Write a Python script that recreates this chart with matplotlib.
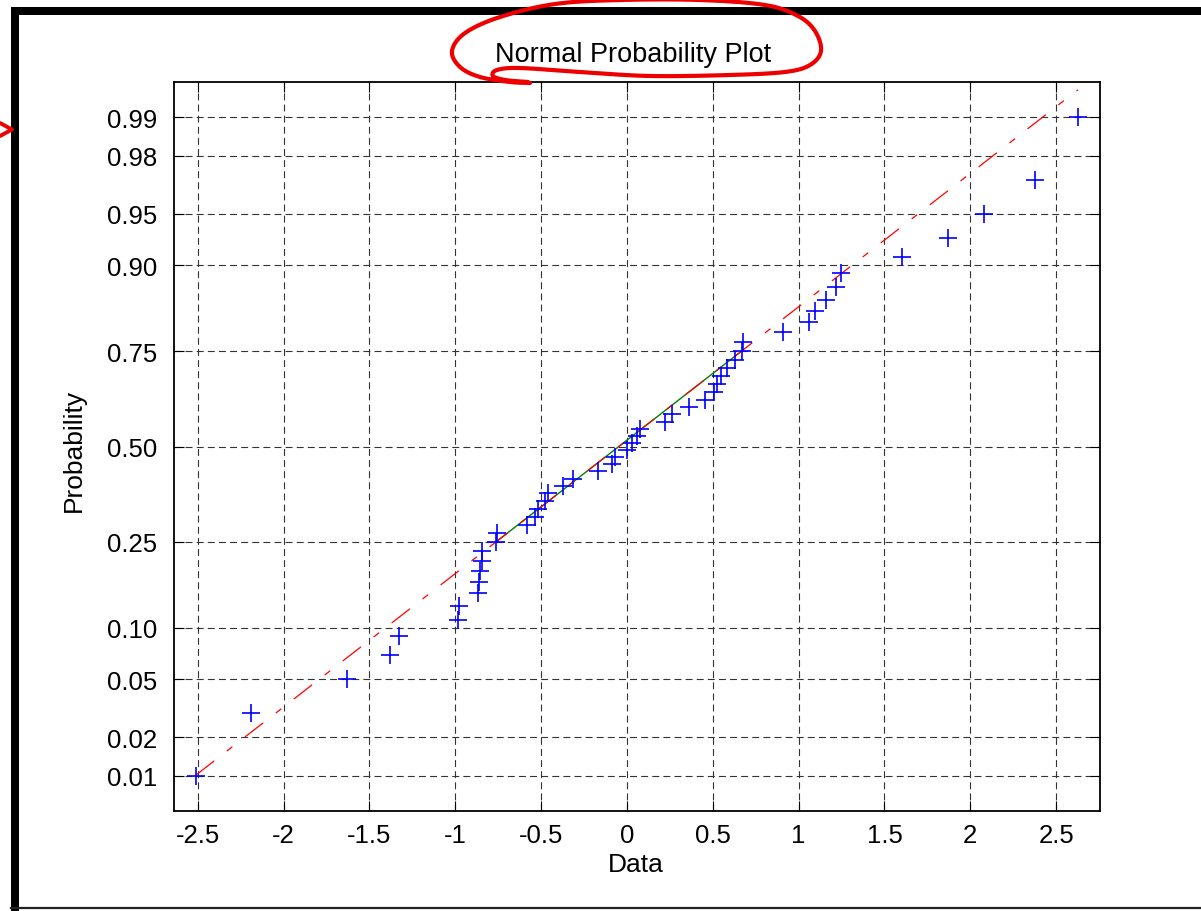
import numpy as np
import matplotlib
matplotlib.use("Agg")
import matplotlib.pyplot as plt
from matplotlib.patches import Rectangle
from statistics import NormalDist

# ---------------- data (sorted sample) ----------------
data = [-2.51, -2.187, -1.63, -1.38, -1.33, -0.983, -0.980, -0.870, -0.860, -0.856,
        -0.846, -0.846, -0.763, -0.757, -0.584, -0.535, -0.516, -0.477, -0.458, -0.370,
        -0.312, -0.166, -0.088, -0.068, 0.000, 0.029, 0.058, 0.078, 0.224, 0.263,
        0.360, 0.457, 0.506, 0.524, 0.550, 0.584, 0.632, 0.668, 0.676, 0.907,
        1.060, 1.096, 1.158, 1.219, 1.245, 1.605, 1.868, 2.078, 2.378, 2.627]

ytick_probs = [0.01, 0.02, 0.05, 0.10, 0.25, 0.50, 0.75, 0.90, 0.95, 0.98, 0.99]
ytick_labels = ['0.01', '0.02', '0.05', '0.10', '0.25', '0.50', '0.75', '0.90', '0.95', '0.98', '0.99']
xtick_vals = [-2.5, -2, -1.5, -1, -0.5, 0, 0.5, 1, 1.5, 2, 2.5]
xtick_labels = ['-2.5', '-2', '-1.5', '-1', '-0.5', '0', '0.5', '1', '1.5', '2', '2.5']

title_text = 'Normal Probability Plot'
xlabel_text = 'Data'
ylabel_text = 'Probability'

# ---------------- computations ----------------
nd = NormalDist()
ppf = np.vectorize(nd.inv_cdf)
x = np.sort(np.array(data))
n = len(x)
probs = (np.arange(1, n + 1) - 0.5) / n
zq = ppf(probs)

q1, q3 = x[int(round(0.25 * n + 0.5)) - 1], x[int(round(0.75 * n + 0.5)) - 1]
z1, z3 = nd.inv_cdf(0.25), nd.inv_cdf(0.75)
slope = (z3 - z1) / (q3 - q1)
def fitline(v):
    return z1 + slope * (np.asarray(v) - q1)

rng = x.max() - x.min()
xlim = (x.min() - 0.025 * rng, x.max() + 0.025 * rng)
ylim = (nd.inv_cdf(0.005), nd.inv_cdf(0.995))

# ---------------- figure ----------------
plt.rcParams['font.family'] = ['Liberation Sans', 'DejaVu Sans']
plt.rcParams['lines.scale_dashes'] = False
W, H = 1201, 912
fig = plt.figure(figsize=(W / 100, H / 100), dpi=100)
fig.patch.set_facecolor('white')

ax = fig.add_axes([174 / W, 1 - 812 / H, (1100 - 174) / W, (812 - 83) / H])
ax.set_xlim(*xlim)
ax.set_ylim(*ylim)

# grid
gdash = (5.0, 3.0)
for xv in xtick_vals:
    ax.axvline(xv, color='0.2', lw=0.8, dashes=gdash, zorder=1)
for pv in ytick_probs:
    ax.axhline(nd.inv_cdf(pv), color='0.2', lw=0.8, dashes=gdash, zorder=1)

# fitted lines
ax.plot([q1, q3], fitline([q1, q3]), color='#008000', lw=1.0, zorder=2)
ax.plot([x.min(), x.max()], fitline([x.min(), x.max()]), color='red', lw=0.9,
        dashes=(16.6, 11.5, 5.0, 11.5), zorder=3)

# data
ax.plot(x, zq, linestyle='none', marker='+', color='blue', markersize=12.5,
        markeredgewidth=1.2, zorder=4)

ax.set_xticks(xtick_vals)
ax.set_xticklabels(xtick_labels)
ax.set_yticks(ppf(ytick_probs))
ax.set_yticklabels(ytick_labels)
ax.tick_params(direction='in', length=7, width=0.8, top=True, right=True,
               labelsize=18.5, colors='black')
ax.tick_params(axis='x', pad=9)
ax.tick_params(axis='y', pad=12)
for s in ax.spines.values():
    s.set_linewidth(1.3)
    s.set_color('black')

fig.text(633.5 / W, 1 - 62 / H, title_text, ha='center', va='baseline', fontsize=19.5)
fig.text(636 / W, 1 - 872 / H, xlabel_text, ha='center', va='baseline', fontsize=19)
fig.text(81 / W, 1 - 450 / H, ylabel_text, ha='center', va='baseline', rotation=90,
         fontsize=19, rotation_mode='anchor')

# ---------------- decorations (frame & red hand annotation) ----------------
ov = fig.add_axes([0, 0, 1, 1], zorder=10)
ov.set_xlim(0, W)
ov.set_ylim(H, 0)
ov.axis('off')
ov.patch.set_alpha(0)
ov.add_patch(Rectangle((11, 8), W - 11, 8, color='black', lw=0))
ov.add_patch(Rectangle((11, 8), 8, H - 8, color='black', lw=0))
ov.plot([11, W], [909.5, 909.5], color='#222222', lw=1.6)

loop = np.array([(528, 83), (505, 81), (493, 77), (497, 71), (520, 69), (580, 73),
                 (650, 77), (730, 76), (785, 73), (810, 66), (821, 52), (815, 32),
                 (798, 17), (765, 6), (700, 1), (620, 1), (555, 5), (500, 18),
                 (465, 34), (452, 52), (460, 68), (480, 78), (510, 83), (530, 84)], float)
def catmull(pts, k=20):
    out = []
    P = np.vstack([pts[0], pts, pts[-1]])
    for i in range(1, len(P) - 2):
        p0, p1, p2, p3 = P[i - 1], P[i], P[i + 1], P[i + 2]
        for t in np.linspace(0, 1, k, endpoint=False):
            t2, t3 = t * t, t * t * t
            out.append(0.5 * ((2 * p1) + (-p0 + p2) * t + (2 * p0 - 5 * p1 + 4 * p2 - p3) * t2
                              + (-p0 + 3 * p1 - 3 * p2 + p3) * t3))
    out.append(pts[-1])
    return np.array(out)
cl = catmull(loop)
ov.plot(cl[:, 0], cl[:, 1], color='#ee0000', lw=3.0, solid_capstyle='round',
        solid_joinstyle='round')
ov.plot([0, 12, 0], [124, 130.5, 137], color='#ee0000', lw=2.8, solid_capstyle='round')

fig.savefig('out.png', dpi=100)
